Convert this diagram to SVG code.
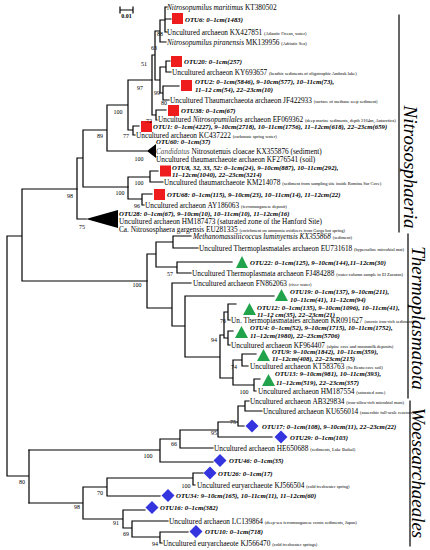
<svg xmlns="http://www.w3.org/2000/svg" width="430" height="550" viewBox="0 0 430 550">
<style>
.br{stroke:#000;stroke-width:1.2;fill:none;stroke-linecap:square}
text{font-family:"Liberation Serif","Times New Roman",serif;fill:#000}
.t{font-size:7.3px}
.i{font-style:italic}
.o{font-size:6.8px;font-weight:bold;font-style:italic}
.s{font-size:4.5px}
.b{font-size:6px;text-anchor:middle}
.g{font-size:19px;font-style:italic}
.sq{fill:#ee1c1c}
.tr{fill:#20a34a}
.di{fill:#3535e0}
</style>
<rect width="430" height="550" fill="#fff"/>
<g id="scale">
<path class="br" d="M120,10 H133 M120,7 V13 M133,7 V13"/>
<text x="126.5" y="18" style="font-size:6px;font-weight:bold;text-anchor:middle">0.01</text>
</g>
<g id="connectors">
<path class="br" d="M7,236 V476 M7,236 H22 M22,189 V281 M22,189 H77 M22,281 H147 M7,476 H29 M29,450 V503"/>
<path class="br" d="M77,158 V219 M77,219 H86 M77,158 H83 M83,130 V187 M83,130 H107 M83,187 H128 M107,105 V151 M107,151 H147 M107,105 H128 M128,80 V130 M128,130 H133 M133,126 V135 M133,126 H139 M133,135 H135 M128,80 H152"/>
<path class="br" d="M165,7 V32 M165,7 H167 M165,19 H171 M165,32 H167 M160,20 V42 M160,20 H165 M160,42 H166 M155,31 V80 M155,31 H160 M155,80 H160 M166,61 V72 M166,61 H170 M166,72 H171 M160,67 V93 M160,67 H166 M160,93 H163 M163,86 V100 M163,86 H179 M163,100 H169 M152,55 V115 M152,55 H155 M152,115 H156 M156,110 V120 M156,110 H166 M156,120 H157"/>
<path class="br" d="M128,177 V199 M128,177 H150 M150,171 V182 M150,171 H158 M150,182 H163 M128,199 H142 M142,194 V205 M142,194 H152 M142,205 H144"/>
<path class="br" d="M147,254 V308 M147,254 H156 M156,242 V267 M156,242 H173 M173,236 V248 M173,236 H191 M173,248 H198 M156,267 H177 M177,262 V273 M177,262 H232 M177,273 H191 M147,308 H172 M172,283 V326 M172,283 H191 M172,326 H185 M185,296 V357 M185,296 H274 M185,357 H220 M220,335 V378 M220,335 H224 M220,378 H233 M224,312 V338 M224,312 H228 M224,338 H228 M228,304 V320 M228,304 H236 M228,320 H230 M228,331 V345 M228,331 H233 M228,345 H230 M233,360 V385 M233,360 H242 M233,385 H254 M242,354 V366 M242,354 H256 M242,366 H248 M254,379 V391 M254,379 H260 M254,391 H256"/>
<path class="br" d="M29,450 H160 M160,439 V462 M160,439 H180 M160,462 H213 M180,430 V448 M180,430 H218 M180,448 H213 M218,422 V437 M218,422 H238 M218,437 H272 M238,406 V426 M238,406 H245 M238,426 H244 M245,401 V411 M245,401 H249 M245,411 H262 M29,503 H83 M83,487 V519 M83,487 H107 M83,519 H123 M107,478 V496 M107,478 H193 M107,496 H160 M193,473 V485 M193,473 H203 M193,485 H195 M123,510 V528 M123,510 H145 M123,528 H132 M132,521 V537 M132,521 H168 M132,537 H160 M160,532 V543 M160,532 H188 M160,543 H162"/>
</g>
<g id="collapsed">
<polygon points="86,219 118,210 118,228" fill="#000"/>
<polygon points="147,151 156,144 156,158" fill="#000"/>
</g>
<g id="nitrososphaeria-leaves">
<text class="t" x="167" y="9.5"><tspan class="i">Nitrosopumilus maritimus</tspan> KT380502</text>
<rect class="sq" x="172" y="13" width="11" height="11"/><text class="o" x="185" y="21.5">OTU6: 0–1cm(1483)</text>
<text class="t" x="167" y="34.5">Uncultured archaeon KX427851 <tspan class="s">(Atlantic Ocean, water)</tspan></text>
<text class="t" x="167" y="44.5"><tspan class="i">Nitrosopumilus piranensis</tspan> MK139956 <tspan class="s">(Adriatic Sea)</tspan></text>
<rect class="sq" x="171" y="56" width="11" height="11"/><text class="o" x="184" y="63.5">OTU20: 0–1cm(257)</text>
<text class="t" x="172" y="74.5">Uncultured archaeon KY693657 <tspan class="s">(benthic sediments of oligotrophic Ambrak lake)</tspan></text>
<rect class="sq" x="181" y="80" width="11" height="11"/><text class="o" x="195" y="83.5">OTU2: 0–1cm(5846), 9–10cm(577), 10–11cm(73),</text><text class="o" x="195" y="92">11–12 cm(54), 22–23cm(10)</text>
<text class="t" x="170" y="102.5">Uncultured Thaumarchaeota archaeon JF422933 <tspan class="s">(surface of methane seep sediment)</tspan></text>
<rect class="sq" x="168" y="105" width="11" height="11"/><text class="o" x="181" y="112.5">OTU38: 0–1cm(67)</text>
<text class="t" x="158" y="122">Uncultured <tspan class="i">Nitrosopumilales</tspan> archaeon EF069362 <tspan class="s">(deep marine sediments, depth 2164m, Antarctica)</tspan></text>
<rect class="sq" x="141" y="121" width="11" height="11"/><text class="o" x="153" y="129">OTU1: 0–1cm(4227), 9–10cm(2718), 10–11cm(1756), 11–12cm(618), 22–23cm(659)</text>
<text class="t" x="136" y="137.5">Uncultured archaeon KC437222 <tspan class="s">(carbonate spring water)</tspan></text>
<text class="o" x="156" y="144">OTU60: 0–1cm(37)</text>
<text class="t" x="156" y="153.5"><tspan class="i" fill="#555">Candidatus</tspan> Nitrosotenuis cloacae KX355876 (sediment)</text>
<text class="t" x="156" y="161.5">Uncultured thaumarchaeote archaeon KF276541 (soil)</text>
<rect class="sq" x="160" y="165.5" width="11" height="11"/><text class="o" x="172" y="169.5">OTU8, 32, 33, 52: 0–1cm(24), 9–10cm(887), 10–11cm(292),</text><text class="o" x="172" y="177">11–12cm(1040), 22–23cm(3214)</text>
<text class="t" x="164" y="184.5">Uncultured thaumarchaeote KM214078 <tspan class="s">(sediment from sampling site inside Romina Sur Cave)</tspan></text>
<rect class="sq" x="154" y="189" width="11" height="11"/><text class="o" x="167" y="196.5">OTU68: 0–1cm(115), 9–10cm(23), 10–11cm(14), 11–12cm(22)</text>
<text class="t" x="145" y="207.5">Uncultured archaeon  AY186063 <tspan class="s">(ferromanganese deposit)</tspan></text>
<text class="o" x="119" y="215.5">OTU28: 0–1cm(67), 9–10cm(10), 10–11cm(10), 11–12cm(16)</text>
<text class="t" x="119" y="223.5">Uncultured archaeon HM187473 (saturated zone of the Hanford Site)</text>
<text class="t" x="119" y="231.5">Ca. Nitrososphaera gargensis EU281335 <tspan class="s">(enrichment on ammonia oxidizers from Garga hot spring)</tspan></text>
</g>
<g id="thermoplasmata-leaves">
<text class="t" x="193" y="238.5"><tspan class="i">Methanomassiliicoccus luminyensis KX355868</tspan> <tspan class="s">(sediment)</tspan></text>
<text class="t" x="199" y="250.5">Uncultured Thermoplasmatales archaeon EU731618 <tspan class="s">(hypersaline microbial mat)</tspan></text>
<polygon class="tr" points="236,268 248,268 242,256"/><text class="o" x="250" y="264.5">OTU22: 0–1cm(125), 9–10cm(144),11–12cm(30)</text>
<text class="t" x="192" y="275.5">Uncultured Thermoplasmata archaeon FJ484288 <tspan class="s">(water column sample in El Zacaton)</tspan></text>
<text class="t" x="193" y="285.5">Uncultured archaeon FN862063 <tspan class="s">(river water)</tspan></text>
<polygon class="tr" points="275,301 288,301 281.5,289"/><text class="o" x="290" y="293.5">OTU19: 0–1cm(137), 9–10cm(211),</text><text class="o" x="290" y="301.5">10–11cm(41), 11–12cm(94)</text>
<polygon class="tr" points="243,315 256,315 249.5,303"/><text class="o" x="257" y="309.5">OTU12: 0–1cm(135), 9–10cm(1096), 10–11cm(41),</text><text class="o" x="257" y="316.5">11–12 cm(35), 22–23cm(21)</text>
<text class="t" x="231" y="323">Un. Thermoplasmatales archaeon KR091627 <tspan class="s">(anoxic iron-rich sediment)</tspan></text>
<polygon class="tr" points="235,338 248,338 241.5,326"/><text class="o" x="250" y="329.5">OTU4: 0–1cm(52), 9–10cm(1715), 10–11cm(1752),</text><text class="o" x="250" y="338">11–12cm(1980), 22–23cm(5706)</text>
<text class="t" x="231" y="347.5">Uncultured archaeon KF964407 <tspan class="s">(alpine cave and moonmilk deposits)</tspan></text>
<polygon class="tr" points="257,361 270,361 263.5,349"/><text class="o" x="272" y="354">OTU9: 9–10cm(1842), 10–11cm(359),</text><text class="o" x="272" y="361">11–12cm(408), 22–23cm(215)</text>
<text class="t" x="250" y="368.5">Uncultured archaeon KT583763 <tspan class="s">(Su Bentu cave soil)</tspan></text>
<polygon class="tr" points="262,386 275,386 268.5,374"/><text class="o" x="275" y="376">OTU13: 9–10cm(981), 10–11cm(393),</text><text class="o" x="276" y="384.5">11–12cm(519), 22–23cm(357)</text>
<text class="t" x="258" y="393.5">Uncultured archaeon HM187554 <tspan class="s">(saturated zone)</tspan></text>
</g>
<g id="woesearchaeales-leaves">
<text class="t" x="250" y="403.5">Uncultured archaeon AB329834 <tspan class="s">(iron-silica-rich microbial mats)</tspan></text>
<text class="t" x="263" y="413.5">Uncultured archaeon KU656014 <tspan class="s">(anaerobic full-scale reactors)</tspan></text>
<polygon class="di" points="252,419.5 258.5,426 252,432.5 245.5,426"/><text class="o" x="262" y="428.5">OTU17: 0–1cm(108), 9–10cm(11), 22–23cm(22)</text>
<polygon class="di" points="281,430.5 287.5,437 281,443.5 274.5,437"/><text class="o" x="290" y="439.5">OTU29: 0–1cm(103)</text>
<text class="t" x="214" y="450.5">Uncultured archaeon HE650688 <tspan class="s">(sediments, Lake Baikal)</tspan></text>
<polygon class="di" points="220,454 226.5,460.5 220,467 213.5,460.5"/><text class="o" x="229" y="463">OTU46: 0–1cm(35)</text>
<polygon class="di" points="210,466.5 216.5,473 210,479.5 203.5,473"/><text class="o" x="218" y="475.5">OTU26: 0–1cm(17)</text>
<text class="t" x="197" y="487.5">Uncultured euryarchaeote KJ566504 <tspan class="s">(cold freshwater spring)</tspan></text>
<polygon class="di" points="168,489 174.5,495.5 168,502 161.5,495.5"/><text class="o" x="176" y="498">OTU34: 9–10cm(165), 10–11cm(11), 11–12cm(60)</text>
<polygon class="di" points="152,501 158.5,507.5 152,514 145.5,507.5"/><text class="o" x="160" y="510">OTU16: 0–1cm(382)</text>
<text class="t" x="169" y="523.5">Uncultured archaeon LC139864 <tspan class="s">(deep-sea ferromanganese crusts sediments, Japan)</tspan></text>
<polygon class="di" points="196,525 202.5,531.5 196,538 189.5,531.5"/><text class="o" x="205" y="534">OTU10: 0–1cm(718)</text>
<text class="t" x="163" y="545.5">Uncultured euryarchaeote  KJ566470 <tspan class="s">(cold freshwater springs)</tspan></text>
</g>
<g id="bootstrap">
<text class="b" x="160" y="36">88</text>
<text class="b" x="154" y="50">63</text>
<text class="b" x="144" y="66">51</text>
<text class="b" x="157" y="95">99</text>
<text class="b" x="140" y="90">97</text>
<text class="b" x="164" y="105">80</text>
<text class="b" x="149" y="123">72</text>
<text class="b" x="118" y="114">100</text>
<text class="b" x="126" y="138">77</text>
<text class="b" x="100" y="138">89</text>
<text class="b" x="139" y="161">100</text>
<text class="b" x="139" y="185">100</text>
<text class="b" x="120" y="195">100</text>
<text class="b" x="137" y="208">96</text>
<text class="b" x="70" y="198">98</text>
<text class="b" x="82" y="229">75</text>
<text class="b" x="137" y="287">100</text>
<text class="b" x="170" y="276">57</text>
<text class="b" x="223" y="323">76</text>
<text class="b" x="214" y="342">94</text>
<text class="b" x="234" y="369">74</text>
<text class="b" x="244" y="394">100</text>
<text class="b" x="148" y="458">100</text>
<text class="b" x="174" y="446">66</text>
<text class="b" x="214" y="435">95</text>
<text class="b" x="233" y="424">75</text>
<text class="b" x="22" y="484">80</text>
<text class="b" x="100" y="495">70</text>
<text class="b" x="186" y="488">100</text>
<text class="b" x="77" y="509">98</text>
<text class="b" x="116" y="525">91</text>
<text class="b" x="126" y="536">69</text>
<text class="b" x="155" y="546">94</text>
</g>
<g id="groups">
<path class="br" d="M399,15 V232 M408,234 V398 M410,401 V546"/>
<text class="g" transform="translate(404,167) rotate(90)" text-anchor="middle">Nitrososphaeria</text>
<text class="g" transform="translate(412,318) rotate(90)" text-anchor="middle">Thermoplasmatota</text>
<text class="g" transform="translate(412,473) rotate(90)" text-anchor="middle">Woesearchaeales</text>
</g>
</svg>
